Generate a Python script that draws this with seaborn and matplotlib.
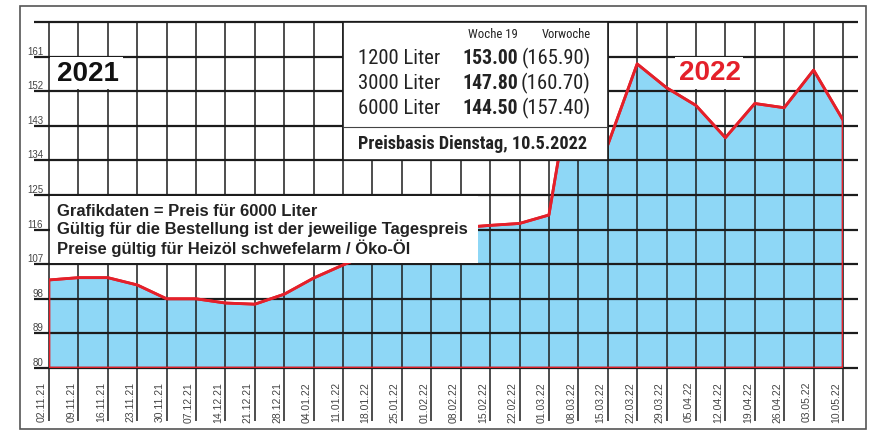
import os
import numpy as np
import pandas as pd
import seaborn as sns
import matplotlib.pyplot as plt
from matplotlib.patches import Rectangle
from matplotlib.font_manager import FontProperties
from matplotlib import font_manager

# 데이터
dates = ["02.11.21", "09.11.21", "16.11.21", "23.11.21", "30.11.21", "07.12.21",
         "14.12.21", "21.12.21", "28.12.21", "04.01.22", "11.01.22", "18.01.22",
         "25.01.22", "01.02.22", "08.02.22", "15.02.22", "22.02.22", "01.03.22",
         "08.03.22", "15.03.22", "22.03.22", "29.03.22", "05.04.22", "12.04.22",
         "19.04.22", "26.04.22", "03.05.22", "10.05.22"]
prices = [102.9, 103.5, 103.5, 101.6, 98.0, 98.0, 96.9, 96.6, 99.2, 103.4,
          106.8, 110.0, 112.5, 114.5, 116.5, 117.1, 117.6, 119.8, 165.0, 138.0,
          159.1, 152.9, 148.3, 139.9, 148.8, 147.7, 157.5, 144.5]
yticks = [80, 89, 98, 107, 116, 125, 134, 143, 152, 161, 170]

liters = ["1200 Liter", "3000 Liter", "6000 Liter"]
woche19 = [153.00, 147.80, 144.50]
vorwoche = [165.90, 160.70, 157.40]
notes = ["Grafikdaten = Preis für 6000 Liter",
         "Gültig für die Bestellung ist der jeweilige Tagespreis",
         "Preise gültig für Heizöl schwefelarm / Öko-Öl"]

BLUE = "#8ed7f6"
RED = "#e4202a"
GRID = "#1c1c1c"

sns.set_style("white")
plt.rcParams['font.family'] = ['Liberation Sans', 'DejaVu Sans']


# 좁은 글꼴 찾기 (없으면 Liberation Sans)
def find_font(cands, fallback_weight):
    files = {os.path.basename(f.fname).lower(): f.fname for f in font_manager.fontManager.ttflist}
    for c in cands:
        if c in files:
            return FontProperties(fname=files[c])
    return FontProperties(family="Liberation Sans", weight=fallback_weight)


COND = find_font(["liberationsansnarrow-regular.ttf", "robotocondensed-regular.ttf",
                  "dejavusanscondensed.ttf"], "normal")
COND_B = find_font(["liberationsansnarrow-bold.ttf", "robotocondensed-bold.ttf",
                    "dejavusanscondensed-bold.ttf"], "bold")

W, H = 874, 435
fig = plt.figure(figsize=(W / 100, H / 100), dpi=100)
# 축 영역: x 49..843 px, y 23..369 px
ax = fig.add_axes([49 / W, (H - 369) / H, (843 - 49) / W, (369 - 23) / H])
ax.set_xlim(0, len(dates) - 1)
ax.set_ylim(80, 170)

df = pd.DataFrame({"idx": np.arange(len(dates)), "price": prices})

# 면 채우기
ax.fill_between(df["idx"], df["price"], 80, facecolor=BLUE, lw=0, zorder=1)

# 격자
ax.hlines(yticks, -0.5, len(dates) - 0.5, colors=GRID, lw=1.6, zorder=2, clip_on=False)
ax.vlines(df["idx"], 80 - 53 / 346 * 90, 170, colors=GRID, lw=1.1, zorder=2, clip_on=False)

# 빨간 외곽선
ax.fill_between(df["idx"], df["price"], 80, facecolor="none", edgecolor=RED, lw=2, zorder=3)
sns.lineplot(data=df, x="idx", y="price", color=RED, lw=2, zorder=3, ax=ax)
ax.set_axis_off()

# y 눈금 라벨
for v in yticks[:-1]:
    ax.text(-0.2, v + 0.8, str(v), ha="right", va="baseline", fontsize=7, color="#444")

# x 눈금 라벨
for i, d in enumerate(dates):
    ax.text(i - 0.24, -13 / 346, d, rotation=90, ha="center", va="top", fontsize=7.5,
            color="#444", transform=ax.get_xaxis_transform())

# 흰 상자들
ax.add_patch(Rectangle((10, 134), 9, 36, fc="white", ec=GRID, lw=1.2, zorder=5))
ax.add_patch(Rectangle((0.05, 107.4), 14.55, 17.3, fc="white", ec="none", zorder=5))
ax.add_patch(Rectangle((0.05, 152.6), 2.47, 8.2, fc="white", ec="none", zorder=5))
ax.add_patch(Rectangle((21.3, 152.6), 2.3, 8.2, fc="white", ec="none", zorder=5))


def px(x, y):
    return x / W, 1 - y / H


renderer = fig.canvas.get_renderer()


# 참조 그림의 글자 폭에 맞춰 크기 조정
def ftext(x, y, s, width, fp, size, ha):
    t = fig.text(*px(x, y), s, ha=ha, va="center", fontproperties=fp.copy(), color="#222")
    t.set_fontsize(size)
    w = t.get_window_extent(renderer).width
    t.set_fontsize(min(size * 1.25, size * width / w))
    return t


# 정보 상자 텍스트
ftext(518, 34, "Woche 19", 50, COND, 9, "right")
ftext(591, 34, "Vorwoche", 49, COND, 9, "right")
for k, (lab, a, b) in enumerate(zip(liters, woche19, vorwoche)):
    y = 58.3 + k * 25
    ftext(358, y, lab, 82, COND, 15, "left")
    ftext(518, y, f"{a:.2f}", 56, COND_B, 15, "right")
    ftext(591, y, f"({b:.2f})", 70, COND, 15, "right")
fig.add_artist(plt.Line2D([343 / W, 607 / W], [1 - 128 / H, 1 - 128 / H], color="#444", lw=0.8))
ftext(358, 144, "Preisbasis Dienstag, 10.5.2022", 230, COND_B, 14, "left")

# 설명 텍스트
for k, t in enumerate(notes):
    fig.text(*px(57, 212 + k * 18), t, ha="left", va="center", fontsize=12, fontweight="bold",
             color="#222")

# 연도 라벨
fig.text(*px(88, 74), "2021", ha="center", va="center", fontsize=20, fontweight="bold", color="#111")
fig.text(*px(710, 73), "2022", ha="center", va="center", fontsize=20, fontweight="bold", color=RED)

# 바깥 테두리
fig.add_artist(Rectangle((20 / W, 5 / H), (866 - 20) / W, (430 - 7) / H,
                         transform=fig.transFigure, fill=False, ec="#555", lw=1.2))

fig.savefig("out.png", dpi=100)
